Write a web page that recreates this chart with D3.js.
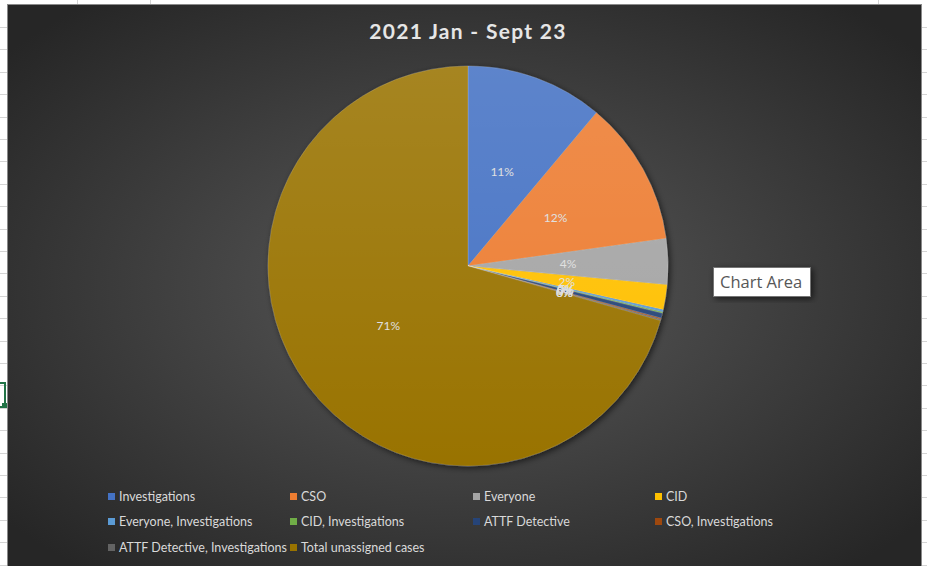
<!DOCTYPE html>
<html>
<head>
<meta charset="utf-8">
<script src="https://cdn.jsdelivr.net/npm/d3@7"></script>
<style>
  body { margin: 0; background: #fff; overflow: hidden; }
  svg { display: block; }
</style>
</head>
<body>
<svg id="chart"></svg>
<script>
// chart size
var width = 927,
    height = 566;

// data (counts, shown as percent of total)
var categories = ["Investigations", "CSO", "Everyone", "CID", "Everyone, Investigations",
    "CID, Investigations", "ATTF Detective", "CSO, Investigations",
    "ATTF Detective, Investigations", "Total unassigned cases"];
var caseCounts = [111, 117, 37, 20, 2, 1, 4, 1, 1, 706];
var sliceColors = ["#4472c4", "#ed7d31", "#a5a5a5", "#ffc000", "#5b9bd5",
    "#70ad47", "#264478", "#9e480e", "#636363", "#997300"];
var chartTitle = "2021 Jan - Sept 23";

var total = d3.sum(caseCounts);

var svg = d3.select("#chart")
    .attr("width", width)
    .attr("height", height);

var defs = svg.append("defs");

// background gradient of the chart area
var bg = defs.append("radialGradient")
    .attr("id", "bgGrad")
    .attr("cx", "50%").attr("cy", "50%").attr("r", "65%");
bg.append("stop").attr("offset", "0%").attr("stop-color", "#5a5a5a");
bg.append("stop").attr("offset", "100%").attr("stop-color", "#262626");

// lighter top on the pie
var shine = defs.append("linearGradient")
    .attr("id", "shine")
    .attr("x1", 0).attr("y1", 0).attr("x2", 0).attr("y2", 1);
shine.append("stop").attr("offset", "0%").attr("stop-color", "#fff").attr("stop-opacity", 0.13);
shine.append("stop").attr("offset", "100%").attr("stop-color", "#fff").attr("stop-opacity", 0);

var shadow = defs.append("filter").attr("id", "shadow")
    .attr("x", "-20%").attr("y", "-20%").attr("width", "140%").attr("height", "140%");
shadow.append("feDropShadow")
    .attr("dx", 2).attr("dy", 2).attr("stdDeviation", 3)
    .attr("flood-color", "#000").attr("flood-opacity", 0.6);

// spreadsheet grid behind the chart
var gridX = [77, 150, 878];
var gridY = d3.range(27, height, 22.4);
var grid = svg.append("g").attr("stroke", "#d4d4d4").attr("stroke-width", 1);
grid.selectAll("line.v").data(gridX).enter().append("line")
    .attr("x1", d => d + 0.5).attr("x2", d => d + 0.5)
    .attr("y1", 0).attr("y2", height);
grid.selectAll("line.h").data(gridY).enter().append("line")
    .attr("x1", 0).attr("x2", width)
    .attr("y1", d => Math.round(d) + 0.5).attr("y2", d => Math.round(d) + 0.5);

// selected cell at the left edge
svg.append("rect")
    .attr("x", -3).attr("y", 383).attr("width", 8).attr("height", 24)
    .attr("fill", "none").attr("stroke", "#217346").attr("stroke-width", 2);
svg.append("rect")
    .attr("x", 2).attr("y", 403).attr("width", 5).attr("height", 5)
    .attr("fill", "#217346");

// chart area
svg.append("rect")
    .attr("x", 7.5).attr("y", 4.5)
    .attr("width", 914).attr("height", height)
    .attr("fill", "url(#bgGrad)")
    .attr("stroke", "#8a8a8a").attr("stroke-width", 1);

// title
svg.append("text")
    .attr("x", 468).attr("y", 39)
    .attr("text-anchor", "middle")
    .attr("font-family", "Lato, 'Open Sans', sans-serif")
    .attr("font-weight", "bold")
    .attr("font-size", 21)
    .attr("letter-spacing", 1.3)
    .attr("fill", "#e6e6e6")
    .text(chartTitle);

// pie
var cx = 468, cy = 266, radius = 200;

var pie = d3.pie().sort(null).value(d => d);
var arcs = pie(caseCounts);

var arc = d3.arc().innerRadius(0).outerRadius(radius);

var pieG = svg.append("g")
    .attr("transform", "translate(" + cx + "," + cy + ")");

var slices = pieG.append("g").attr("filter", "url(#shadow)");
slices.selectAll("path")
    .data(arcs)
    .enter()
    .append("path")
    .attr("d", arc)
    .attr("fill", (d, i) => sliceColors[i])
    .attr("stroke", "rgba(255,255,255,0.25)")
    .attr("stroke-width", 0.6);

pieG.append("circle")
    .attr("r", radius)
    .attr("fill", "url(#shine)")
    .attr("pointer-events", "none");

// percent labels at half the radius
pieG.selectAll("text.lbl")
    .data(arcs)
    .enter()
    .append("text")
    .attr("class", "lbl")
    .attr("transform", d => "translate(" + arc.centroid(d) + ")")
    .attr("text-anchor", "middle")
    .attr("dy", "0.35em")
    .attr("font-family", "Lato, 'Open Sans', sans-serif")
    .attr("font-size", 12)
    .attr("fill", "#e0e0e0")
    .text(d => Math.round(d.data / total * 100) + "%");

// legend, 4 columns
var legendCols = [108, 290, 473, 655];
var legendRows = [497, 522, 548];

var legend = svg.append("g").attr("class", "legend");
var item = legend.selectAll("g")
    .data(categories)
    .enter()
    .append("g")
    .attr("transform", (d, i) => "translate(" + legendCols[i % 4] + "," + legendRows[Math.floor(i / 4)] + ")");

item.append("rect")
    .attr("x", 0).attr("y", -4)
    .attr("width", 7).attr("height", 7)
    .attr("fill", (d, i) => sliceColors[i]);

item.append("text")
    .attr("x", 11).attr("y", 0)
    .attr("dy", "0.35em")
    .attr("font-family", "Lato, 'Open Sans', sans-serif")
    .attr("font-size", 12.5)
    .attr("fill", "#d9d9d9")
    .text(d => d);

// "Chart Area" tooltip
var tip = svg.append("g").attr("transform", "translate(713,267)");
tip.append("rect")
    .attr("x", 0.5).attr("y", 0.5)
    .attr("width", 97).attr("height", 29)
    .attr("fill", "#fff")
    .attr("stroke", "#767676")
    .attr("filter", "url(#shadow)");
tip.append("text")
    .attr("x", 7).attr("y", 21)
    .attr("font-family", "'Open Sans', sans-serif")
    .attr("font-size", 16.5)
    .attr("fill", "#575757")
    .text("Chart Area");
</script>
</body>
</html>
